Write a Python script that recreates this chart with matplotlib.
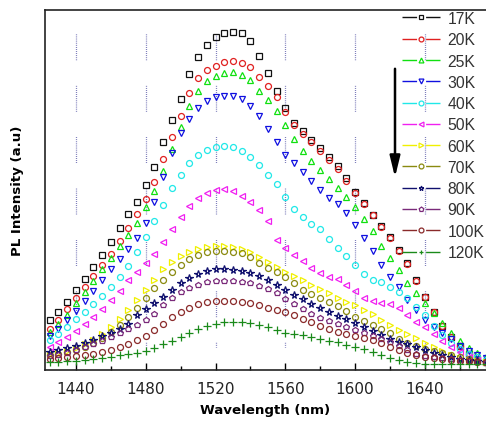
import matplotlib.pyplot as plt
from matplotlib.lines import Line2D

plt.rcParams['lines.scale_dashes'] = False

wavelength = [1425, 1430, 1435, 1440, 1445, 1450, 1455, 1460, 1465, 1470,
              1475, 1480, 1485, 1490, 1495, 1500, 1505, 1510, 1515, 1520,
              1525, 1530, 1535, 1540, 1545, 1550, 1555, 1560, 1565, 1570,
              1575, 1580, 1585, 1590, 1595, 1600, 1605, 1610, 1615, 1620,
              1625, 1630, 1635, 1640, 1645, 1650, 1655, 1660, 1665, 1670,
              1675]

temps = ["17K", "20K", "25K", "30K", "40K", "50K",
         "60K", "70K", "80K", "90K", "100K", "120K"]

pl_17k = [50, 58, 68, 80, 91, 103, 115, 128, 142, 156, 168, 185, 203, 228, 250,
          271, 296, 313, 325, 333, 337, 338, 337, 329, 314, 297, 279, 262, 247, 239,
          230, 222, 213, 204, 192, 178, 167, 155, 144, 133, 120, 107, 90, 73, 58,
          44, 33, 24, 16, 11, 8]
pl_20k = [41, 50, 61, 72, 83, 94, 105, 116, 129, 142, 156, 171, 188, 211, 233,
          254, 277, 292, 300, 304, 308, 309, 307, 303, 293, 284, 273, 258, 245, 236,
          228, 219, 210, 201, 189, 177, 166, 155, 143, 132, 119, 106, 89, 73, 58,
          44, 33, 24, 16, 11, 8]
pl_25k = [38, 46, 55, 67, 78, 89, 101, 112, 124, 135, 147, 163, 179, 199, 221,
          243, 264, 279, 289, 294, 297, 298, 295, 290, 279, 270, 259, 245, 231, 219,
          209, 200, 191, 182, 173, 163, 151, 139, 124, 112, 100, 87, 77, 67, 57,
          47, 37, 29, 22, 17, 13]
pl_30k = [34, 41, 50, 59, 69, 79, 90, 101, 111, 121, 132, 147, 168, 193, 217,
          237, 251, 262, 269, 273, 274, 274, 271, 264, 254, 241, 228, 215, 207, 198,
          189, 180, 172, 166, 157, 145, 132, 119, 105, 93, 83, 70, 60, 50, 43,
          37, 31, 24, 19, 15, 12]
pl_40k = [30, 36, 43, 51, 58, 66, 74, 83, 93, 104, 118, 133, 149, 165, 182,
          195, 207, 215, 220, 223, 224, 223, 219, 213, 205, 195, 186, 173, 161, 153,
          146, 141, 131, 122, 114, 105, 96, 90, 88, 83, 78, 72, 63, 55, 44,
          35, 27, 21, 16, 13, 10]
pl_50k = [23, 28, 33, 39, 46, 53, 61, 70, 79, 90, 98, 107, 116, 128, 141,
          153, 164, 172, 177, 180, 181, 179, 174, 168, 160, 149, 130, 122, 115, 109,
          102, 97, 93, 91, 85, 79, 72, 69, 67, 66, 62, 55, 48, 43, 36,
          29, 23, 18, 13, 10, 8]
pl_60k = [16, 17, 19, 22, 26, 30, 36, 43, 51, 60, 70, 80, 90, 101, 108,
          114, 118, 121, 123, 124, 124, 123, 121, 118, 113, 108, 103, 98, 94, 90,
          85, 81, 77, 72, 68, 65, 60, 56, 50, 45, 40, 36, 32, 27, 23,
          19, 15, 12, 10, 9, 8]
pl_70k = [15, 16, 18, 20, 23, 27, 32, 38, 45, 53, 62, 72, 82, 90, 98,
          105, 111, 115, 118, 119, 119, 118, 117, 113, 107, 102, 98, 93, 87, 80,
          76, 72, 68, 64, 59, 53, 49, 45, 41, 37, 31, 27, 24, 21, 19,
          17, 15, 13, 11, 9, 8]
pl_80k = [18, 20, 22, 24, 27, 30, 34, 37, 41, 46, 55, 61, 67, 73, 80,
          87, 92, 96, 99, 101, 101, 100, 99, 97, 94, 90, 85, 80, 75, 71,
          66, 62, 58, 54, 51, 47, 43, 39, 35, 31, 28, 26, 23, 20, 17,
          15, 13, 11, 10, 9, 8]
pl_90k = [14, 15, 17, 20, 23, 26, 29, 33, 37, 41, 45, 50, 56, 65, 72,
          78, 82, 85, 88, 89, 89, 89, 88, 87, 84, 81, 77, 71, 66, 61,
          56, 52, 49, 46, 43, 40, 37, 34, 31, 28, 24, 20, 16, 14, 13,
          12, 11, 10, 9, 8, 7]
pl_100k = [11, 12, 13, 14, 15, 16, 18, 20, 23, 26, 30, 34, 40, 46, 53,
           58, 62, 66, 68, 69, 69, 69, 68, 67, 65, 62, 60, 58, 55, 51,
           48, 44, 41, 38, 36, 34, 32, 30, 27, 23, 20, 17, 15, 13, 12,
           11, 10, 9, 9, 8, 8]
pl_120k = [8, 8, 9, 9, 10, 11, 12, 13, 15, 16, 17, 19, 22, 26, 29,
           33, 37, 41, 44, 46, 48, 48, 48, 47, 45, 43, 40, 37, 36, 35,
           33, 31, 29, 28, 25, 23, 21, 18, 15, 12, 10, 8, 7, 6, 6,
           6, 6, 6, 6, 6, 6]

spectra = [pl_17k, pl_20k, pl_25k, pl_30k, pl_40k, pl_50k,
           pl_60k, pl_70k, pl_80k, pl_90k, pl_100k, pl_120k]

colors = ['#111111', '#e02020', '#10e010', '#1010e0', '#20e8e8', '#f020f0',
          '#f0f000', '#8a8a10', '#10106e', '#7a2a7a', '#8a2a2a', '#1a8a1a']
markers = ['s', 'o', '^', 'v', 'o', '<', '>', 'o', '*', 'p', 'o', '+']

major = [1440, 1480, 1520, 1560, 1600, 1640]
minor = [1460, 1500, 1540, 1580, 1620, 1660]

fig = plt.figure(figsize=(4.86, 4.27), dpi=100)
ax = fig.add_axes([45 / 486, 56 / 427, 441 / 486, 360 / 427])

# broken dotted guide lines at the major wavelengths
for w in major:
    ax.plot([w, w], [0.933, 0.065], transform=ax.get_xaxis_transform(),
            color='#4a4aa0', lw=0.9, dashes=[0.5, 1.0] * 12 + [0.5, 18.5],
            zorder=0.5)

handles = []
for vals, t, c, m in zip(spectra, temps, colors, markers):
    ms = 5.6 if m in ('*', '+') else 4.3
    ax.plot(wavelength, vals, linestyle='none', marker=m, ms=ms,
            mfc='none', mec=c, mew=0.9)
    handles.append(Line2D([], [], color=c, marker=m, ms=3.5, mfc='none', mec=c,
                          mew=0.9, lw=1.0, linestyle=(0, (10.5, 6.5))))

ax.set_xlim(1422.3, 1675)
ax.set_ylim(0, 360)

for side in ('left', 'top', 'bottom'):
    ax.spines[side].set_linewidth(1.2)
    ax.spines[side].set_color('#222222')
ax.spines['right'].set_visible(False)

ax.set_xticks(major)
ax.set_xticks(minor, minor=True)
ax.tick_params(axis='x', which='major', direction='in', length=5, width=1,
               labelsize=11, pad=8, labelcolor='#222222')
ax.tick_params(axis='x', which='minor', direction='in', length=3, width=1)
ax.tick_params(axis='y', left=False, labelleft=False)

ax.set_xlabel('Wavelength (nm)', fontsize=9.6, fontweight='bold', labelpad=5)
ax.set_ylabel('PL Intensity (a.u)', fontsize=9.6, fontweight='bold', labelpad=15)

leg = ax.legend(handles, temps, loc='upper left', bbox_to_anchor=(402 / 486, 0.972),
                bbox_transform=fig.transFigure, frameon=False, borderpad=0,
                borderaxespad=0, handlelength=2.45, handletextpad=0.45,
                labelspacing=0.4, prop={'family': 'Liberation Sans', 'size': 11.3})
for txt in leg.get_texts():
    txt.set_color('#333333')

# cooling direction arrow
ax.annotate('', xy=(395 / 486, 1 - 181 / 427), xytext=(395 / 486, 1 - 67 / 427),
            xycoords='figure fraction', textcoords='figure fraction',
            arrowprops=dict(arrowstyle='-|>,head_length=0.9,head_width=0.22',
                            color='black', lw=1.8, mutation_scale=14))

fig.savefig('out.png', dpi=100)
